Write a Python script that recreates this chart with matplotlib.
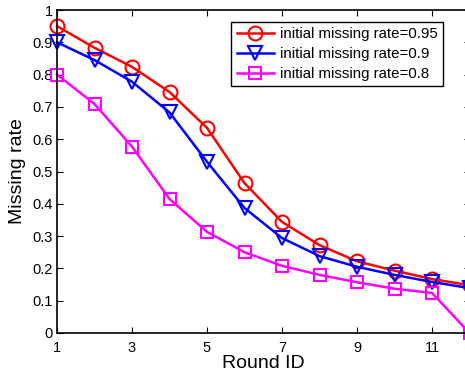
import matplotlib.pyplot as plt

plt.rcParams['font.family'] = ['Liberation Sans', 'DejaVu Sans']

rounds = list(range(1, 13))
rate_095 = [0.95, 0.883, 0.824, 0.746, 0.635, 0.464, 0.344, 0.272, 0.222, 0.193, 0.167, 0.148]
rate_09 = [0.90, 0.845, 0.778, 0.683, 0.530, 0.387, 0.294, 0.238, 0.205, 0.180, 0.158, 0.139]
rate_08 = [0.80, 0.709, 0.577, 0.415, 0.313, 0.250, 0.208, 0.180, 0.157, 0.137, 0.124, 0.0]
labels = ['initial missing rate=0.95', 'initial missing rate=0.9', 'initial missing rate=0.8']

fig = plt.figure(figsize=(4.65, 3.8), dpi=100)
ax = fig.add_axes([57 / 465, 47 / 380, 412.5 / 465, 323 / 380])

ax.plot(rounds, rate_095, '-o', color='red', lw=1.8, ms=10, mew=1.5, mfc='none', label=labels[0], clip_on=False)
ax.plot(rounds, rate_09, '-v', color='blue', lw=1.8, ms=10, mew=1.5, mfc='none', label=labels[1], clip_on=False)
ax.plot(rounds, rate_08, '-s', color='magenta', lw=1.8, ms=8.5, mew=1.5, mfc='none', label=labels[2], clip_on=False)

ax.set_xlim(1, 12)
ax.set_ylim(0, 1)
ax.set_xticks([1, 3, 5, 7, 9, 11])
ax.set_yticks([i / 10 for i in range(11)])
ax.set_yticklabels(['0', '0.1', '0.2', '0.3', '0.4', '0.5', '0.6', '0.7', '0.8', '0.9', '1'])
ax.tick_params(direction='in', top=True, right=True, labelsize=10.5, length=4)
ax.tick_params(axis='x', pad=6)
ax.tick_params(axis='y', pad=3)
for s in ax.spines.values():
    s.set_linewidth(1.2)

ax.set_xlabel('Round ID', fontsize=14, labelpad=0)
ax.set_ylabel('Missing rate', fontsize=14, labelpad=5)

leg = ax.legend(loc='upper right', bbox_to_anchor=(386 / 412.5, 0.963), fontsize=10.8, fancybox=False,
                edgecolor='black', framealpha=1, borderpad=0.35, handlelength=2.5,
                handletextpad=0.4, labelspacing=0.4, borderaxespad=0)
leg.get_frame().set_linewidth(1.0)

fig.savefig('out.png', dpi=100)
